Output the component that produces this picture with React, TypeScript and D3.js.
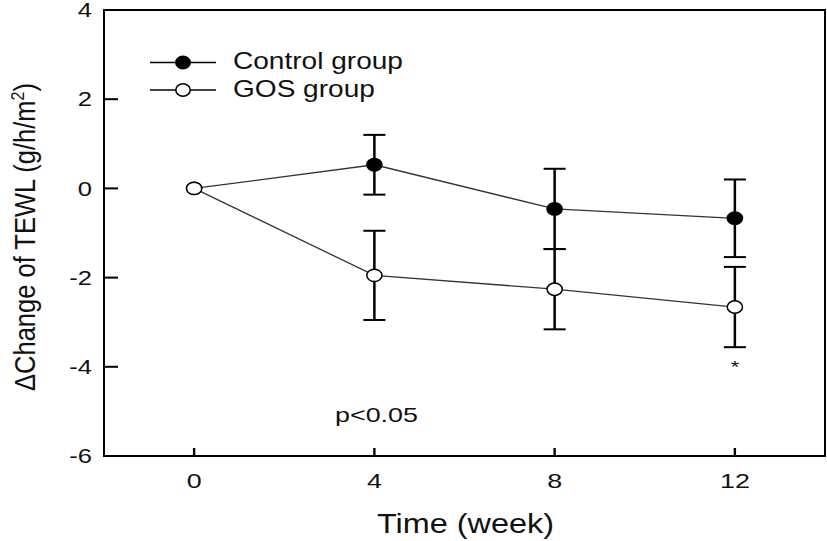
import React from "react";
import * as d3 from "d3";

const weeks = [0, 4, 8, 12];
const controlMean = [0, 0.53, -0.46, -0.67];
const controlErr = [0, 0.67, 0.9, 0.87];
const gosMean = [0, -1.95, -2.26, -2.66];
const gosErr = [0, 1.0, 0.9, 0.9];
const yTicks = [4, 2, 0, -2, -4, -6];
const xTicks = [0, 4, 8, 12];
const legendLabels = ["Control group", "GOS group"];

const W = 827;
const H = 541;
const FONT = "'Liberation Sans', Arial, sans-serif";
const SX = 1.28; // horizontal stretch seen in the reference

function T(props: {
  x: number;
  y: number;
  size: number;
  sx?: number;
  anchor?: string;
  dy?: string;
  children: React.ReactNode;
}) {
  const sx = props.sx ?? SX;
  return (
    <text
      transform={`translate(${props.x},${props.y}) scale(${sx},1)`}
      textAnchor={props.anchor || "start"}
      dy={props.dy}
      fontSize={props.size}
      fill="#111"
    >
      {props.children}
    </text>
  );
}

export default function App() {
  const x = d3.scaleLinear().domain([-2, 14]).range([104, 825]);
  const y = d3.scaleLinear().domain([-6, 4]).range([456, 10]);
  const line = d3
    .line<[number, number]>()
    .x((d) => x(d[0]))
    .y((d) => y(d[1]));

  const series = [
    { mean: controlMean, err: controlErr, fill: "#000" },
    { mean: gosMean, err: gosErr, fill: "#fff" },
  ];

  return (
    <svg
      width={W}
      height={H}
      style={{ position: "absolute", left: 0, top: 0, background: "#fff" }}
      fontFamily={FONT}
    >
      {/* frame */}
      <rect
        x={x(-2)}
        y={y(4)}
        width={x(14) - x(-2)}
        height={y(-6) - y(4)}
        fill="none"
        stroke="#000"
        strokeWidth={2}
      />
      {/* y ticks */}
      {yTicks.map((t) => (
        <g key={"y" + t}>
          <line x1={x(-2)} x2={x(-2) + 14} y1={y(t)} y2={y(t)} stroke="#000" strokeWidth={2} />
          <T x={92} y={y(t)} dy="0.36em" anchor="end" size={20}>
            {t}
          </T>
        </g>
      ))}
      {/* x ticks */}
      {xTicks.map((t) => (
        <g key={"x" + t}>
          <line x1={x(t)} x2={x(t)} y1={y(-6)} y2={y(-6) - 8} stroke="#000" strokeWidth={2.4} />
          <T x={x(t)} y={488} anchor="middle" size={21}>
            {t}
          </T>
        </g>
      ))}
      {/* axis titles */}
      <T x={465.5} y={533} anchor="middle" size={27} sx={1.2}>
        Time (week)
      </T>
      <text
        transform={`translate(35, 237) scale(1.15,1) rotate(-90)`}
        textAnchor="middle"
        fontSize={25.5}
        fill="#111"
      >
        ΔChange of TEWL (g/h/m
        <tspan baseline-shift="super" fontSize={16}>2</tspan>)
      </text>

      {/* lines */}
      {series.map((s, i) => (
        <path
          key={"l" + i}
          d={line(weeks.map((w, j) => [w, s.mean[j]]) as [number, number][]) || ""}
          fill="none"
          stroke="#333"
          strokeWidth={1.3}
        />
      ))}
      {/* error bars */}
      {series.map((s, i) =>
        weeks.map((w, j) =>
          s.err[j] > 0 ? (
            <g key={`e${i}-${j}`} stroke="#000">
              <line
                x1={x(w)}
                x2={x(w)}
                y1={y(s.mean[j] + s.err[j])}
                y2={y(s.mean[j] - s.err[j])}
                strokeWidth={2.5}
              />
              <line
                x1={x(w) - 11}
                x2={x(w) + 11}
                y1={y(s.mean[j] + s.err[j])}
                y2={y(s.mean[j] + s.err[j])}
                strokeWidth={2}
              />
              <line
                x1={x(w) - 11}
                x2={x(w) + 11}
                y1={y(s.mean[j] - s.err[j])}
                y2={y(s.mean[j] - s.err[j])}
                strokeWidth={2}
              />
            </g>
          ) : null
        )
      )}
      {/* markers */}
      {series.map((s, i) =>
        weeks.map((w, j) => (
          <ellipse
            key={`m${i}-${j}`}
            cx={x(w)}
            cy={y(s.mean[j])}
            rx={7.6}
            ry={6.2}
            fill={s.fill}
            stroke="#000"
            strokeWidth={1.5}
          />
        ))
      )}
      {/* significance */}
      <T x={x(12)} y={373} anchor="middle" size={17}>
        *
      </T>
      <T x={335} y={422} size={21}>
        p&lt;0.05
      </T>

      {/* legend */}
      {legendLabels.map((label, i) => {
        const yy = 62.5 + i * 27.5;
        return (
          <g key={label}>
            <line x1={150} x2={216} y1={yy} y2={yy} stroke="#000" strokeWidth={1.5} />
            <ellipse
              cx={183}
              cy={yy}
              rx={7.2}
              ry={6.2}
              fill={i === 0 ? "#000" : "#fff"}
              stroke="#000"
              strokeWidth={1.5}
            />
            <T x={233} y={yy + 6.8} size={23} sx={1.22}>
              {label}
            </T>
          </g>
        );
      })}
    </svg>
  );
}
